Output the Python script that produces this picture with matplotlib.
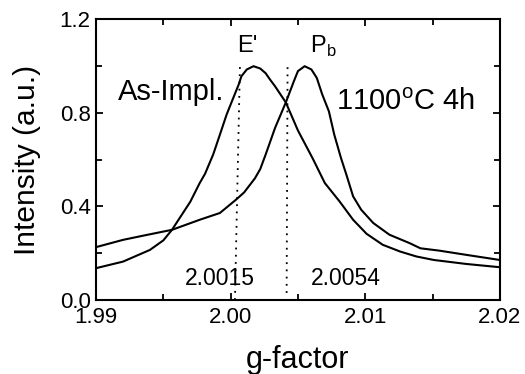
import matplotlib.pyplot as plt
import numpy as np

plt.rcParams['font.family'] = ['Liberation Sans', 'DejaVu Sans']

# As-implanted (E' centre)
g_asimpl = [1.9900, 1.9920, 1.9940, 1.9950, 1.99564, 1.9970, 1.9977, 1.9981,
            1.9987, 1.9992, 1.9997, 2.0002, 2.0006, 2.0008, 2.0012, 2.0017,
            2.0022, 2.0026, 2.0029, 2.0033, 2.0041, 2.0050, 2.0061, 2.0070,
            2.0081, 2.0091, 2.0101, 2.0113, 2.0126, 2.0138, 2.0151, 2.0175,
            2.0200]
i_asimpl = [0.136, 0.164, 0.214, 0.255, 0.300, 0.420, 0.500, 0.540,
            0.622, 0.707, 0.793, 0.865, 0.922, 0.957, 0.986, 1.000,
            0.990, 0.970, 0.945, 0.914, 0.845, 0.725, 0.605, 0.500,
            0.421, 0.343, 0.283, 0.236, 0.207, 0.186, 0.171, 0.154,
            0.140]

# 1100C 4h anneal (Pb centre)
g_anneal = [1.9900, 1.9920, 1.9935, 1.99564, 1.9977, 1.9992, 2.0004, 2.0010,
            2.0014, 2.0018, 2.0022, 2.0026, 2.0033, 2.0041, 2.0047, 2.0050,
            2.0055, 2.0060, 2.0064, 2.0068, 2.0073, 2.0077, 2.0082, 2.0086,
            2.0091, 2.0097, 2.0106, 2.0118, 2.0133, 2.0141, 2.0155, 2.0175,
            2.0200]
i_anneal = [0.226, 0.257, 0.275, 0.300, 0.343, 0.372, 0.429, 0.460,
            0.490, 0.520, 0.560, 0.622, 0.736, 0.845, 0.936, 0.979,
            1.000, 0.986, 0.950, 0.880, 0.807, 0.707, 0.607, 0.536,
            0.443, 0.386, 0.329, 0.279, 0.243, 0.221, 0.211, 0.193,
            0.171]

# marker lines (g at bottom, g at top)
mark1_g = [2.00032, 2.00069]
mark1_i = [0.0, 1.0]
mark2_g = [2.00416, 2.00423]
mark2_i = [0.03, 1.0]

fig = plt.figure(figsize=(5.25, 3.74), dpi=100)
ax = fig.add_axes([0.183, 0.198, 0.769, 0.750])

ax.plot(g_asimpl, i_asimpl, color='black', lw=1.5)
ax.plot(g_anneal, i_anneal, color='black', lw=1.5)
ax.plot(mark1_g, mark1_i, color='black', lw=1.3, ls=(0, (1, 3)))
ax.plot(mark2_g, mark2_i, color='black', lw=1.3, ls=(0, (1, 3)))

ax.set_xlim(1.99, 2.02)
ax.set_ylim(0.0, 1.2)
ax.set_xticks([1.99, 2.00, 2.01, 2.02])
ax.set_xticks([1.995, 2.005, 2.015], minor=True)
ax.set_yticks([0.0, 0.4, 0.8, 1.2])
ax.set_yticks([0.2, 0.6, 1.0], minor=True)
ax.set_xticklabels(['1.99', '2.00', '2.01', '2.02'])
ax.set_yticklabels(['0.0', '0.4', '0.8', '1.2'])
ax.tick_params(which='both', direction='in', top=True, right=True,
               labelsize=16, width=1.3)
ax.tick_params(which='major', length=5)
ax.tick_params(which='minor', length=4)
ax.tick_params(axis='x', pad=5)
ax.tick_params(axis='y', pad=4)
for s in ax.spines.values():
    s.set_linewidth(1.5)

ax.set_xlabel('g-factor', fontsize=22, labelpad=12)
ax.set_ylabel('Intensity (a.u.)', fontsize=21.5, labelpad=13)

ax.text(2.00121, 1.059, "E'", fontsize=17, ha='center', va='baseline')
ax.text(2.00686, 1.059, r"P$_{\mathregular{b}}$", fontsize=17, ha='center', va='baseline')
ax.text(1.99557, 0.857, 'As-Impl.', fontsize=21, ha='center', va='baseline')
ax.text(2.01302, 0.814, r"1100$^{\mathregular{o}}$C 4h", fontsize=21, ha='center', va='baseline')
ax.text(1.99921, 0.064, '2.0015', fontsize=16.5, ha='center', va='baseline')
ax.text(2.00856, 0.064, '2.0054', fontsize=16.5, ha='center', va='baseline')

fig.savefig('out.png', dpi=100)
